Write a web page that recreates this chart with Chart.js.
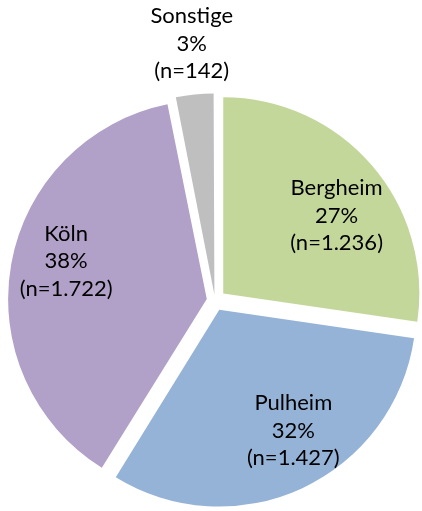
<!DOCTYPE html>
<html>
<head>
<meta charset="utf-8">
<script src="https://cdn.jsdelivr.net/npm/chart.js@4.4.0/dist/chart.umd.min.js"></script>
<style>
  html, body { margin: 0; padding: 0; background: #fff; }
  #wrap { width: 422px; height: 511px; }
</style>
</head>
<body>
<div id="wrap"><canvas id="pie" width="422" height="511"></canvas></div>
<script>
const labels = ['Bergheim', 'Pulheim', 'Köln', 'Sonstige'];
const counts = [1236, 1427, 1722, 142];
const percents = ['27%', '32%', '38%', '3%'];
const counted = ['(n=1.236)', '(n=1.427)', '(n=1.722)', '(n=142)'];
const colors = ['#c4d79b', '#95b3d7', '#b1a0c7', '#bfbfbf'];

// how far each slice is pulled out of the pie, px
const pullOut = 11;
// where each label sits: angle shift from slice middle (deg), distance as share of radius
const labelPlace = [[6.5, 0.7], [-6.5, 0.72], [5, 0.73], [0.5, 1.26]];

// Chart.js moves an arc by offset/4 * (2 - sin(circumference)), so undo that
const total = counts.reduce((a, b) => a + b, 0);
const offsets = counts.map(c => {
  const circ = c / total * Math.PI * 2;
  const fix = 1 - Math.sin(Math.min(Math.PI, circ));
  return pullOut * 4 / (1 + fix);
});

const sliceLabels = {
  id: 'sliceLabels',
  afterDatasetsDraw(chart) {
    const ctx = chart.ctx;
    const meta = chart.getDatasetMeta(0);
    ctx.save();
    ctx.font = '22px Lato, "Open Sans", sans-serif';
    ctx.fillStyle = '#000';
    ctx.textAlign = 'center';
    ctx.textBaseline = 'middle';
    meta.data.forEach((arc, i) => {
      const p = arc.getProps(['x', 'y', 'startAngle', 'endAngle', 'outerRadius']);
      const mid = (p.startAngle + p.endAngle) / 2;
      const cx = p.x + Math.cos(mid) * pullOut;
      const cy = p.y + Math.sin(mid) * pullOut;
      const a = mid + labelPlace[i][0] * Math.PI / 180;
      const d = p.outerRadius * labelPlace[i][1];
      const x = cx + Math.cos(a) * d;
      const y = cy + Math.sin(a) * d;
      ctx.fillText(labels[i], x, y - 27.5);
      ctx.fillText(percents[i], x, y);
      ctx.fillText(counted[i], x, y + 27.5);
    });
    ctx.restore();
  }
};

new Chart(document.getElementById('pie'), {
  type: 'pie',
  data: {
    labels: labels,
    datasets: [{
      data: counts,
      backgroundColor: colors,
      borderWidth: 0,
      offset: offsets
    }]
  },
  options: {
    responsive: false,
    animation: false,
    radius: 196,
    layout: { padding: { left: 8, right: 0, top: 90, bottom: 0 } },
    plugins: { legend: { display: false }, tooltip: { enabled: false } }
  },
  plugins: [sliceLabels]
});
</script>
</body>
</html>
